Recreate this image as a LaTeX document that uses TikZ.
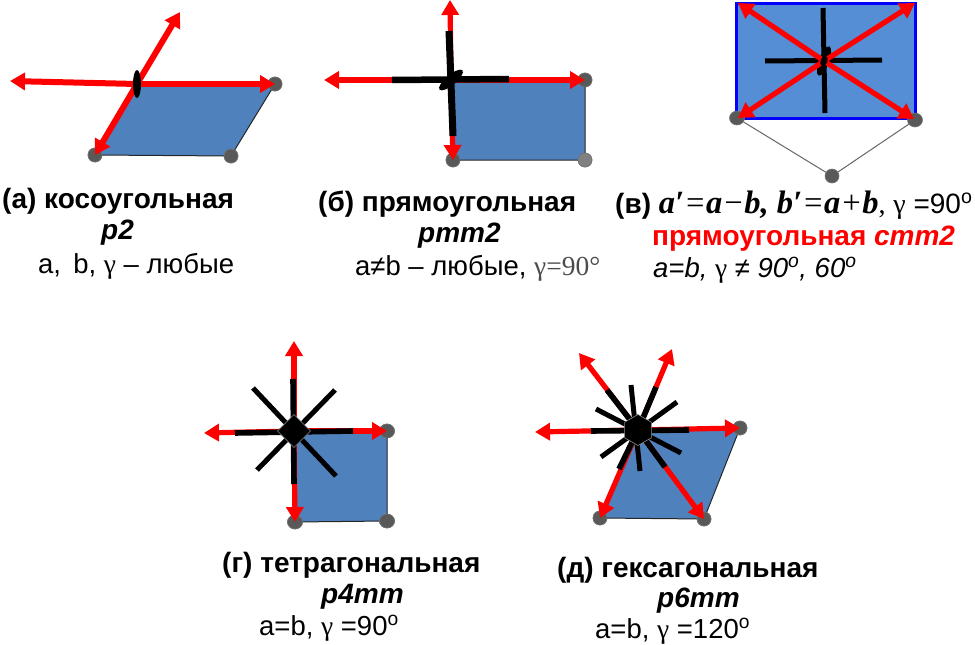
\documentclass[tikz,border=0pt]{standalone}
\usepackage{fontspec}
\setmainfont{Liberation Sans}
\newfontfamily\tms{Liberation Serif}
\usetikzlibrary{arrows.meta,shapes.geometric}
\definecolor{cellblue}{HTML}{4F81BD}
\definecolor{cellblueb}{HTML}{558ED5}
\definecolor{atomgray}{HTML}{595959}
\tikzset{
  cell/.style={fill=cellblue,draw=black!85,line width=1pt},
  atom/.style={circle,fill=atomgray,draw=black!55,line width=0.6pt,minimum size=14pt,inner sep=0pt},
  atomw/.style={ellipse,fill=atomgray,draw=black!55,line width=0.6pt,minimum width=15pt,minimum height=14pt,inner sep=0pt},
  vec/.style={draw=red,line width=5.2pt,-{Triangle[width=17pt,length=15pt]}},
  axis/.style={draw=black,line width=5.6pt},
  thinaxis/.style={draw=black,line width=5pt},
  rot/.style={ellipse,fill=black,draw=none,inner sep=0pt},
  head/.style={anchor=base west,inner sep=0pt,font=\fontsize{28}{32}\selectfont\bfseries},
  plain/.style={anchor=base west,inner sep=0pt,font=\fontsize{27.5}{32}\selectfont},
}
\newcommand{\gam}{{\tms γ}}
\begin{document}
\begin{tikzpicture}[x=1pt,y=-1pt]
\useasboundingbox (0,0) rectangle (975,645);
% ---------- (a)
\coordinate (ac) at (137,84);
\coordinate (at) at (180,12);
\coordinate (al) at (10,81);
\node[atom] (a1) at (275,84) {};
\node[atom] (a2) at (231,156) {};
\node[atom] (a3) at (95,155) {};
\filldraw[cell] (ac) -- (a1.center) -- (a2.center) -- (a3.center) -- cycle;
\node[atom] at (a1) {};
\node[atom] at (a2) {};
\node[atom] at (a3) {};
\draw[vec,line width=6pt] (ac) -- (at);
\draw[vec,line width=6pt] (ac) -- (al);
\draw[vec,line width=6pt] (ac) -- (a1.center);
\draw[vec,line width=6pt] (ac) -- (a3.center);
\node[rot,minimum width=8pt,minimum height=28pt] (ar) at (ac) {};
\node[head] (at1) at (2,208) {(а) косоугольная};
\node[head] (at2) at (101,239) {\itshape p2};
\node[plain] (at3) at (38,273) {а, \,b, \gam{} – любые};
% ---------- (b)
\coordinate (bc) at (451,80);
\coordinate (bt) at (450,0);
\coordinate (bl) at (324,80);
\coordinate (bbl) at (392,80);
\coordinate (bbr) at (509,79);
\coordinate (bbt) at (449,31);
\coordinate (bbb) at (453,136);
\node[atom] (b1) at (585,80) {};
\node[atom] (b2) at (453,160) {};
\node[atom] (b3) at (585,160) {};
\filldraw[cell] (bc) -- (b1.center) -- (b3.center) -- (b2.center) -- cycle;
\node[atom] at (b1) {};
\node[atom,fill=black!50] at (b3) {};
\node[atom] at (b2) {};
\draw[vec] (bc) -- (bt);
\draw[vec] (bc) -- (bl);
\draw[vec] (bc) -- (b1.center);
\draw[vec] (bc) -- (b2.center);
\draw[axis,line width=6.5pt] (bbl) -- (bbr);
\draw[axis,line width=7pt] (bbt) -- (bbb);
\node[rot,minimum width=30pt,minimum height=10pt,rotate=40] (br) at (bc) {};
\node[head] (bt1) at (318,211) {(б) прямоугольная};
\node[head] (bt2) at (418,242) {\itshape pmm2};
\node[plain] (bt3) at (355,275) {a≠b – любые, {\color{black!70}\tms γ=90°}};
% ---------- (v)
\coordinate (cc) at (824,61);
\coordinate (ctl) at (738,3);
\coordinate (ctr) at (915,3);
\coordinate (cbl) at (738,118);
\coordinate (cbr) at (914,119);
\draw[fill=cellblueb,draw=blue,line width=3pt] (736.5,3.5) rectangle (915,118);
\node[atomw] (c1) at (737,118) {};
\node[atomw] (c2) at (915,120) {};
\node[atom] (c3) at (832,176) {};
\draw[black!60,line width=1pt] (c1) -- (c3) -- (c2);
\draw[thinaxis] (765,61) -- (882,60);
\draw[thinaxis] (823,8) -- (825,113);
\node[rot,minimum width=31pt,minimum height=10pt,rotate=70] (cr) at (cc) {};
\draw[vec] (cc) -- (ctl);
\draw[vec] (cc) -- (ctr);
\draw[vec] (cc) -- (cbl);
\draw[vec] (cc) -- (cbr);
\node[rot,minimum width=11pt,minimum height=7pt,rotate=70] (cr2) at (cc) {};
\node[head] (ct1) at (615,213) {(в) {\fontsize{32.5}{36}\selectfont\tms\itshape a′\mdseries=\bfseries a\mdseries−\bfseries b, b′\mdseries=\bfseries a\mdseries+\bfseries b\mdseries\upshape\fontsize{28}{32}\selectfont,} {\mdseries\gam{} =90\textsuperscript{o}}};
\node[head,text=red] (ct2) at (652,245) {прямоугольная \itshape cmm2};
\node[plain] (ct3) at (653,277) {\itshape a=b, \upshape\gam\itshape{} ≠ 90\textsuperscript{o}, 60\textsuperscript{o}};
% ---------- (g)
\coordinate (dc) at (294,431);
\coordinate (dt) at (294,341);
\coordinate (dl) at (204,433);
\node[atomw] (d1) at (387,431) {};
\node[atomw] (d2) at (295,522) {};
\node[atomw] (d3) at (387,521) {};
\filldraw[cell] (dc) -- (d1.center) -- (d3.center) -- (d2.center) -- cycle;
\node[atomw] at (d1) {};
\node[atomw] at (d2) {};
\node[atomw] at (d3) {};
\draw[vec] (dc) -- (dt);
\draw[vec] (dc) -- (dl);
\draw[vec] (dc) -- (d1.center);
\draw[vec] (dc) -- (d2.center);
\draw[axis] (293,379) -- (294,484);
\draw[axis] (235,433) -- (353,431);
\draw[thinaxis] (253,388) -- (336,476);
\draw[thinaxis] (335,390) -- (257,470);
\node[regular polygon,regular polygon sides=4,regular polygon rotate=45,minimum size=33pt,inner sep=0pt,fill=black,draw=black!45,line width=0.6pt] (dr) at (dc) {};
\node[head] (dt1) at (222,572) {(г) тетрагональная};
\node[head] (dt2) at (321,603) {\itshape p4mm};
\node[plain] (dt3) at (259,635) {a=b, \gam{} =90\textsuperscript{o}};
% ---------- (d)
\coordinate (ec) at (638,430);
\coordinate (el) at (535,432);
\coordinate (eul) at (579,353);
\coordinate (eur) at (672,349);
\node[atom] (e1) at (740,428) {};
\node[atom] (e2) at (704,519) {};
\node[atom] (e3) at (600,518) {};
\filldraw[cell] (ec) -- (e1.center) -- (e2.center) -- (e3.center) -- cycle;
\node[atom] at (e1) {};
\node[atom] at (e2) {};
\node[atom] at (e3) {};
\draw[vec] (ec) -- (el);
\draw[vec] (ec) -- (e1.center);
\draw[vec] (ec) -- (eul);
\draw[vec] (ec) -- (eur);
\draw[vec] (ec) -- (e3.center);
\draw[vec] (ec) -- (e2.center);
\draw[axis] (591,431) -- (689,430);
\draw[axis] (607,390) -- (ec);
\draw[axis] (656,387) -- (ec);
\draw[axis] (619,469) -- (ec);
\draw[axis] (665,467) -- (ec);
\draw[thinaxis] (631,385) -- (640,471);
\draw[thinaxis] (596,409) -- (681,453);
\draw[thinaxis] (677,402) -- (601,457);
\node[regular polygon,regular polygon sides=6,regular polygon rotate=30,minimum size=31pt,inner sep=0pt,fill=black,draw=black!45,line width=0.6pt] (er) at (ec) {};
\node[head] (et1) at (557,577) {(д) гексагональная};
\node[head] (et2) at (657,607) {\itshape p6mm};
\node[plain] (et3) at (595,638) {a=b, \gam{} =120\textsuperscript{o}};
\end{tikzpicture}
\end{document}
